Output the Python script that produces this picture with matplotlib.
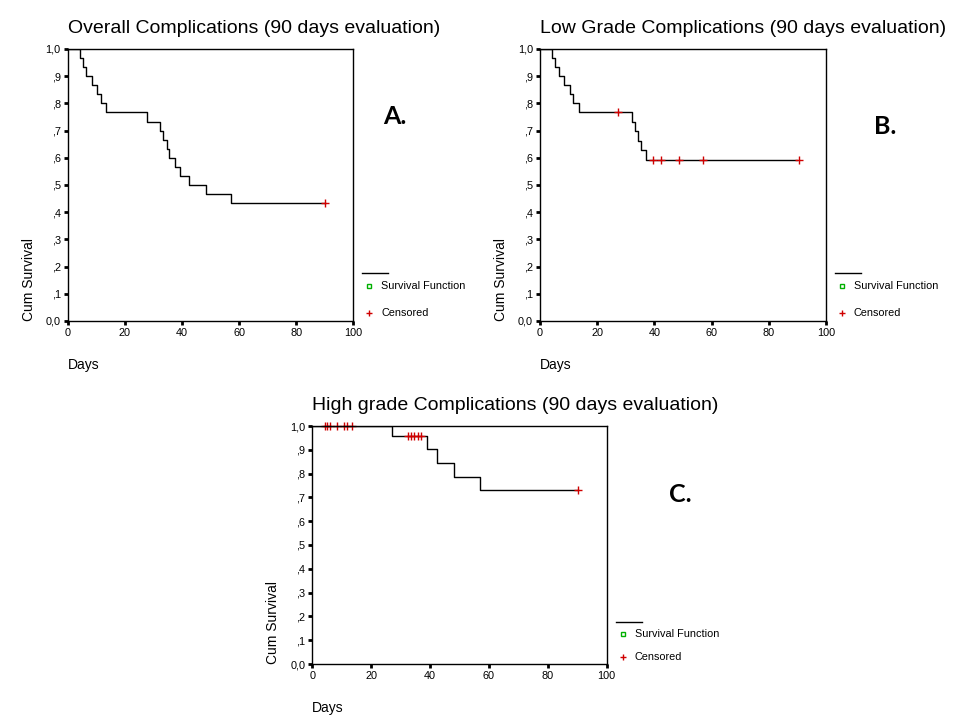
import matplotlib
matplotlib.use('Agg')
import matplotlib.pyplot as plt
from matplotlib.lines import Line2D

plt.rcParams['font.family'] = ['Liberation Sans', 'DejaVu Sans']

W, H = 960, 720

# Overall complications (A)
a_times = [0, 4.2, 5.4, 6.4, 8.5, 10.3, 11.5, 13.4, 27.6, 32.4, 33.2, 34.6, 35.5,
           37.4, 39.3, 42.6, 48.5, 57.3, 90]
a_surv = [1.0, .967, .933, .900, .867, .833, .800, .767, .733, .700, .667, .633, .600,
          .567, .533, .500, .467, .433, .433]
a_cens_t = [90]
a_cens_s = [.433]

# Low grade complications (B)
b_times = [0, 4.3, 5.3, 6.5, 8.5, 10.4, 11.4, 13.5, 32.3, 33.3, 34.4, 35.3, 37.2, 90]
b_surv = [1.0, .967, .933, .900, .867, .833, .800, .767, .732, .697, .662, .627, .593, .593]
b_cens_t = [27.3, 39.4, 42.4, 48.5, 57.0, 90.5]
b_cens_s = [.767, .593, .593, .593, .593, .593]

# High grade complications (C)
c_times = [0, 27.2, 39.1, 42.3, 48.2, 57.1, 90]
c_surv = [1.0, .957, .902, .843, .784, .730, .730]
c_cens_t = [4.3, 5.1, 6.0, 8.5, 10.9, 11.9, 13.4, 32.4, 33.5, 34.7, 35.8, 36.9, 90.2]
c_cens_s = [1.0] * 7 + [.957] * 5 + [.730]

y_ticks = [i / 10 for i in range(11)]
y_labels = ['0,0', ',1', ',2', ',3', ',4', ',5', ',6', ',7', ',8', ',9', '1,0']
x_ticks = [0, 20, 40, 60, 80, 100]

RED = '#d00000'
GREEN = '#00b000'


def fx(x):
    return x / W


def fy(y):
    return 1 - y / H


def draw_panel(fig, box, title, times, surv, cens_t, cens_s, letter, letter_xy):
    left, top, right, bottom = box
    ax = fig.add_axes([fx(left), fy(bottom), (right - left) / W, (bottom - top) / H])
    ax.step(times, surv, where='post', color='black', lw=1)
    ax.plot(cens_t, cens_s, ls='none', marker='+', color=RED, ms=6, mew=1, clip_on=False)
    ax.set_xlim(0, 100)
    ax.set_ylim(0, 1)
    ax.set_xticks(x_ticks)
    ax.set_yticks(y_ticks)
    ax.set_yticklabels(y_labels)
    ax.tick_params(direction='out', length=3, width=2, labelsize=7.8, pad=2)
    for s in ax.spines.values():
        s.set_linewidth(1)

    # titles and axis labels sit where SPSS puts them
    fig.text(fx(left), fy(top - 16), title, fontsize=14, ha='left', va='baseline')
    fig.text(fx(left), fy(bottom + 48), 'Days', fontsize=10, ha='left', va='baseline')
    fig.text(fx(left - 39), fy(bottom), 'Cum Survival', fontsize=10, rotation=90,
             ha='center', va='bottom')

    # legend block to the right of the plot
    hgt = bottom - top
    x0 = right + 9
    y_line = bottom - 0.175 * hgt
    y_surv = bottom - 0.128 * hgt
    y_cens = bottom - 0.03 * hgt
    fig.add_artist(Line2D([fx(x0), fx(x0 + 26)], [fy(y_line), fy(y_line)],
                          color='black', lw=1, transform=fig.transFigure))
    fig.add_artist(Line2D([fx(x0 + 7)], [fy(y_surv)], ls='none', marker='s', ms=3.5,
                          mfc='none', mec=GREEN, mew=1, transform=fig.transFigure))
    fig.add_artist(Line2D([fx(x0 + 7)], [fy(y_cens)], ls='none', marker='+', ms=5,
                          color=RED, mew=1, transform=fig.transFigure))
    fig.text(fx(x0 + 19), fy(y_surv), 'Survival Function', fontsize=7.8, va='center')
    fig.text(fx(x0 + 19), fy(y_cens), 'Censored', fontsize=7.8, va='center')

    fig.text(fx(letter_xy[0]), fy(letter_xy[1]), letter, fontsize=18, fontweight='bold',
             family=['Lato', 'DejaVu Sans'], ha='center', va='center')
    return ax


fig = plt.figure(figsize=(9.6, 7.2), dpi=100)
draw_panel(fig, (67.7, 49, 353.3, 321), 'Overall Complications (90 days evaluation)',
           a_times, a_surv, a_cens_t, a_cens_s, 'A.', (395, 117))
draw_panel(fig, (540, 49, 826, 321), 'Low Grade Complications (90 days evaluation)',
           b_times, b_surv, b_cens_t, b_cens_s, 'B.', (885, 126))
draw_panel(fig, (312.3, 426, 606.7, 664), 'High grade Complications (90 days evaluation)',
           c_times, c_surv, c_cens_t, c_cens_s, 'C.', (680, 494))

fig.savefig('out.png', dpi=100)
